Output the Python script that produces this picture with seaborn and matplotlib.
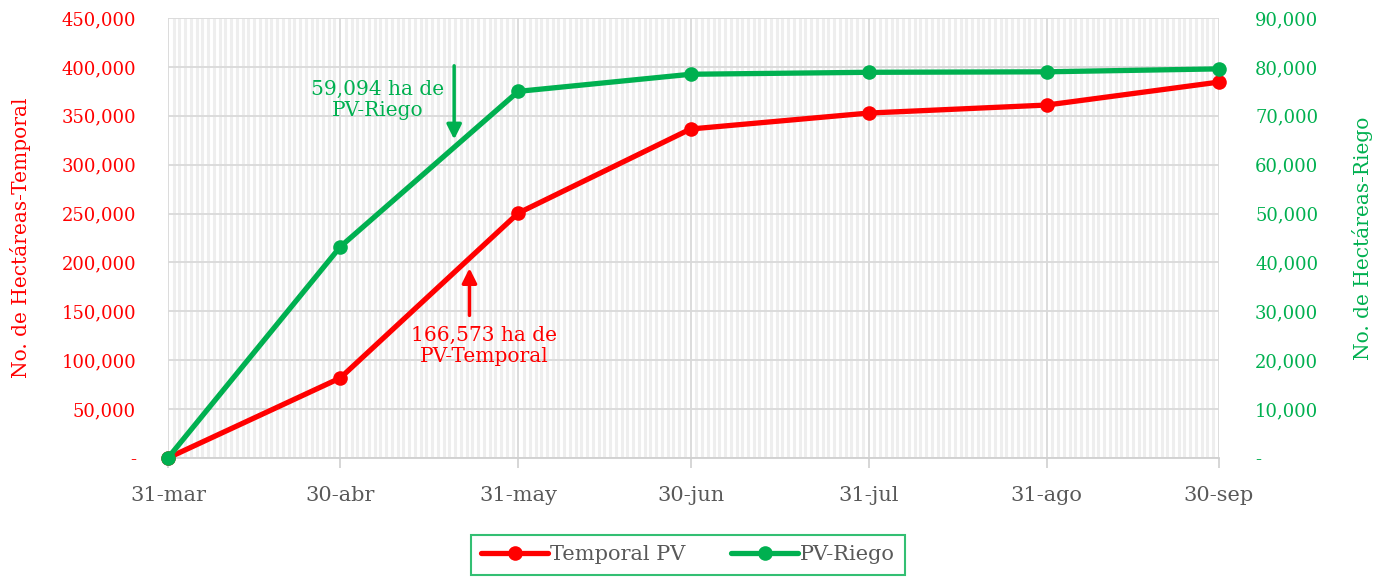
import matplotlib
matplotlib.use("Agg")
import matplotlib.pyplot as plt
import matplotlib.dates as mdates
from matplotlib.ticker import FuncFormatter, MultipleLocator, FixedLocator
import numpy as np
import pandas as pd
import seaborn as sns

# data
fechas = ["2024-03-31", "2024-04-30", "2024-05-31", "2024-06-30",
          "2024-07-31", "2024-08-31", "2024-09-30"]
etiquetas = ["31-mar", "30-abr", "31-may", "30-jun", "31-jul", "31-ago", "30-sep"]
temporal_pv = [0, 81800, 250500, 336500, 352800, 361000, 384500]
pv_riego = [0, 43200, 75000, 78500, 78900, 79000, 79600]

ROJO = "#FF0000"
VERDE = "#00B050"
GRIS = "#595959"

df = pd.DataFrame({
    "fecha": pd.to_datetime(fechas),
    "temporal": temporal_pv,
    "riego": pv_riego,
})

sns.set_theme(style="white")
plt.rcParams["font.family"] = ["DejaVu Serif", "DejaVu Sans"]

fig = plt.figure(figsize=(13.8, 5.82), dpi=100)
ax = fig.add_axes([0.1217, 0.2131, 0.7616, 0.7559])
ax2 = ax.twinx()

sns.lineplot(data=df, x="fecha", y="temporal", ax=ax, color=ROJO, lw=3.8,
             marker="o", markersize=10.5, markeredgewidth=0, label="Temporal PV",
             legend=False, clip_on=False, zorder=5)
sns.lineplot(data=df, x="fecha", y="riego", ax=ax2, color=VERDE, lw=3.8,
             marker="o", markersize=10.5, markeredgewidth=0, label="PV-Riego",
             legend=False, clip_on=False, zorder=5)

fmt = FuncFormatter(lambda v, p: "-" if v == 0 else f"{v:,.0f}")

ax.set_ylim(0, 450000)
ax.yaxis.set_major_locator(MultipleLocator(50000))
ax.yaxis.set_major_formatter(fmt)
ax2.set_ylim(0, 90000)
ax2.yaxis.set_major_locator(MultipleLocator(10000))
ax2.yaxis.set_major_formatter(fmt)

ax.set_xlim(df["fecha"].iloc[0], df["fecha"].iloc[-1])
ax.xaxis.set_major_locator(FixedLocator(mdates.date2num(df["fecha"])))
ax.set_xticklabels(etiquetas)
ax.xaxis.set_minor_locator(mdates.DayLocator())

ax.tick_params(axis="y", length=0, pad=23, labelsize=13, labelcolor=ROJO)
ax2.tick_params(axis="y", length=0, pad=26, labelsize=13, labelcolor=VERDE)
ax.tick_params(axis="x", which="major", length=7, width=1.2, color="#D0D0D0",
               pad=13, labelsize=15, labelcolor=GRIS, bottom=True)
ax.tick_params(axis="x", which="minor", length=0)

ax.grid(axis="y", color="#D9D9D9", lw=1.3)
ax.grid(axis="x", which="major", color="#D9D9D9", lw=1.3)
ax.grid(axis="x", which="minor", color="#EEEEEE", lw=2.2)
ax.set_axisbelow(True)

for a in (ax, ax2):
    for s in a.spines.values():
        s.set_visible(False)
ax.spines["bottom"].set_visible(True)
ax.spines["bottom"].set_color("#D0D0D0")
ax.spines["bottom"].set_linewidth(1.3)

ax.set_xlabel("")
ax.set_ylabel("No. de Hectáreas-Temporal", color=ROJO, fontsize=14.5, labelpad=22)
ax2.set_ylabel("No. de Hectáreas-Riego", color=VERDE, fontsize=14.5, labelpad=24)

# annotations
ax2.annotate("", xy=(pd.Timestamp("2024-05-19 20:00"), 64600),
             xytext=(pd.Timestamp("2024-05-19 20:00"), 80800),
             arrowprops=dict(arrowstyle="-|>", color=VERDE, lw=2.5,
                             mutation_scale=22))
ax2.text(pd.Timestamp("2024-05-06 14:00"), 73200, "59,094 ha de\nPV-Riego",
         color=VERDE, fontsize=14.5, ha="center", va="center", linespacing=1.15)

ax.annotate("", xy=(pd.Timestamp("2024-05-22 12:00"), 197000),
            xytext=(pd.Timestamp("2024-05-22 12:00"), 143000),
            arrowprops=dict(arrowstyle="-|>", color=ROJO, lw=2.5,
                            mutation_scale=22))
ax.text(pd.Timestamp("2024-05-25 00:00"), 115000, "166,573 ha de\nPV-Temporal",
        color=ROJO, fontsize=14.5, ha="center", va="center", linespacing=1.15)

h1, l1 = ax.get_legend_handles_labels()
h2, l2 = ax2.get_legend_handles_labels()
leg = fig.legend(h1 + h2, l1 + l2, loc="center", bbox_to_anchor=(0.4986, 0.0464),
                 ncol=2, fontsize=15, frameon=True, fancybox=False,
                 edgecolor=VERDE, borderpad=0.5, columnspacing=2.2,
                 handlelength=3.2, handletextpad=0.1, borderaxespad=0)
leg.get_frame().set_linewidth(1.5)
for t in leg.get_texts():
    t.set_color(GRIS)

fig.savefig("out.png", dpi=100)
